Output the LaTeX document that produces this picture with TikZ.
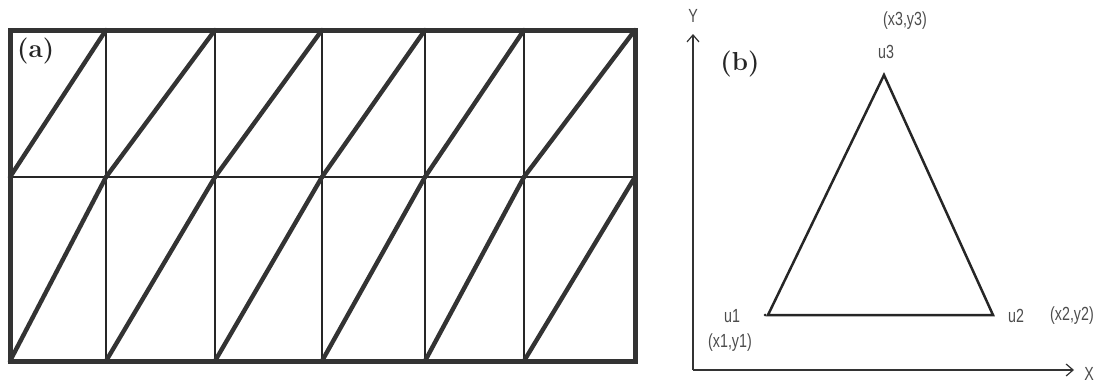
\documentclass[tikz,border=0pt]{standalone}
\usepackage{fontspec}
\newfontfamily\lblfont{Liberation Sans}
\usetikzlibrary{arrows.meta}
\begin{document}
\begin{tikzpicture}[x=1pt,y=-1pt,
  grid/.style={line width=2pt,draw=black!85},
  diag/.style={line width=4.4pt,draw=black!80},
  border/.style={line width=5pt,draw=black!80},
  axis/.style={line width=1.2pt,draw=black!80,-{Straight Barb[length=7pt,width=12pt]}},
  tri/.style={line width=2.5pt,draw=black!85},
  lbl/.style={font=\lblfont\fontsize{19}{19}\selectfont,text=black!70,inner sep=1pt,xscale=0.75},
  tag/.style={font=\bfseries\fontsize{26}{26}\selectfont,text=black!85,inner sep=0pt}]
\useasboundingbox (0,0) rectangle (1104,386);
% left panel grid
\coordinate (TL) at (10,30);
\coordinate (BR) at (635,361);
\foreach \x [count=\i] in {10,106,215,322,425,524,635}{
  \coordinate (t\i) at (\x,30);
  \coordinate (m\i) at (\x,177);
  \coordinate (b\i) at (\x,361);
}
\foreach \i in {2,...,6}{ \draw[grid] (t\i) -- (b\i); }
\draw[grid] (m1) -- (m7);
\foreach \i [evaluate=\i as \j using int(\i+1)] in {1,...,6}{
  \draw[diag,line cap=round] (m\i) -- (t\j);
  \draw[diag,line cap=round] (b\i) -- (m\j);
}
\draw[border] (TL) rectangle (BR);
\node[tag,anchor=west] (a) at (17,51) {(a)};
% right panel
\coordinate (O) at (693,370);
\coordinate (Ytop) at (693,34);
\coordinate (Xend) at (1074,370);
\draw[axis] (O) -- (Ytop);
\draw[axis] (O) -- (Xend);
\node[lbl] (ylab) at (693,16) {Y};
\node[lbl] (xlab) at (1089,374) {X};
\node[tag] (b) at (740,64) {(b)};
\coordinate (u1) at (768,315);
\coordinate (u2) at (993,315);
\coordinate (u3) at (884,75);
\draw[tri,line join=miter] (u1) -- (u2) -- (u3) -- cycle;
\fill[black!85] (u1) ++(-3,0) circle (1.5pt);
\node[lbl] (lu1) at (732,316) {u1};
\node[lbl] (lx1) at (730,343) {(x1,y1)};
\node[lbl] (lu2) at (1016,316) {u2};
\node[lbl] (lx2) at (1072,316) {(x2,y2)};
\node[lbl] (lu3) at (886,52) {u3};
\node[lbl] (lx3) at (905,21) {(x3,y3)};
\end{tikzpicture}
\end{document}
